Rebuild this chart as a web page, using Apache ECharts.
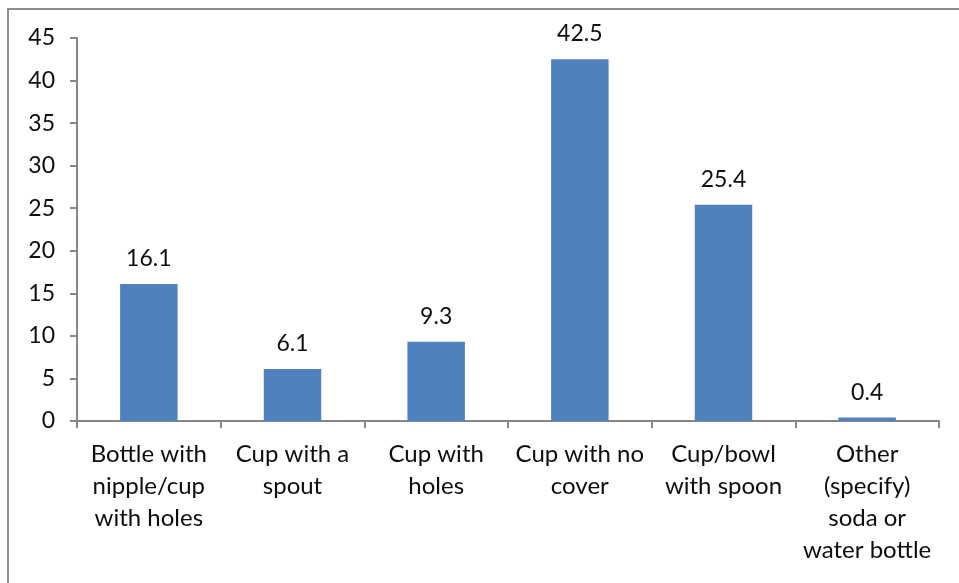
<!DOCTYPE html>
<html>
<head>
<meta charset="utf-8">
<script src="https://cdn.jsdelivr.net/npm/echarts@6/dist/echarts.min.js"></script>
<style>
  html, body { margin: 0; padding: 0; background: #fff; }
  #chart { width: 959px; height: 583px; }
</style>
</head>
<body>
<div id="chart"></div>
<script>
  var categories = [
    'Bottle with\nnipple/cup\nwith holes',
    'Cup with a\nspout',
    'Cup with\nholes',
    'Cup with no\ncover',
    'Cup/bowl\nwith spoon',
    'Other\n(specify)\nsoda or\nwater bottle'
  ]
  var values = [16.1, 6.1, 9.3, 42.5, 25.4, 0.4]
  var yMax = 45
  var yStep = 5

  var font = 'Lato, "Open Sans", sans-serif'
  var axisColor = '#868686'
  var textColor = '#0d0d0d'

  var chart = echarts.init(document.getElementById('chart'))
  chart.setOption({
    animation: false,
    graphic: [
      { // outer frame
        type: 'rect',
        shape: { x: 8, y: 9, width: 1000, height: 700 },
        style: { fill: 'none', stroke: '#8c8c8c', lineWidth: 2 }
      }
    ],
    grid: { left: 77, right: 20, top: 38, bottom: 162 },
    xAxis: {
      type: 'category',
      data: categories,
      axisLine: { lineStyle: { color: axisColor, width: 2 } },
      axisTick: { show: true, length: 7, lineStyle: { color: axisColor, width: 2 } },
      axisLabel: {
        interval: 0,
        color: textColor,
        fontFamily: font,
        fontSize: 24,
        lineHeight: 32,
        margin: 17
      }
    },
    yAxis: {
      type: 'value',
      min: 0,
      max: yMax,
      interval: yStep,
      splitLine: { show: false },
      axisLine: { show: true, lineStyle: { color: axisColor, width: 2 } },
      axisTick: { show: true, length: 7, lineStyle: { color: axisColor, width: 2 } },
      axisLabel: {
        color: textColor,
        fontFamily: font,
        fontSize: 23,
        margin: 22
      }
    },
    series: [
      {
        type: 'bar',
        data: values,
        barWidth: '40%',
        itemStyle: { color: '#4f81bd' },
        label: {
          show: true,
          position: 'top',
          distance: 14,
          color: textColor,
          fontFamily: font,
          fontSize: 23,
          formatter: function (p) { return p.value.toFixed(1) }
        }
      }
    ]
  })
</script>
</body>
</html>
